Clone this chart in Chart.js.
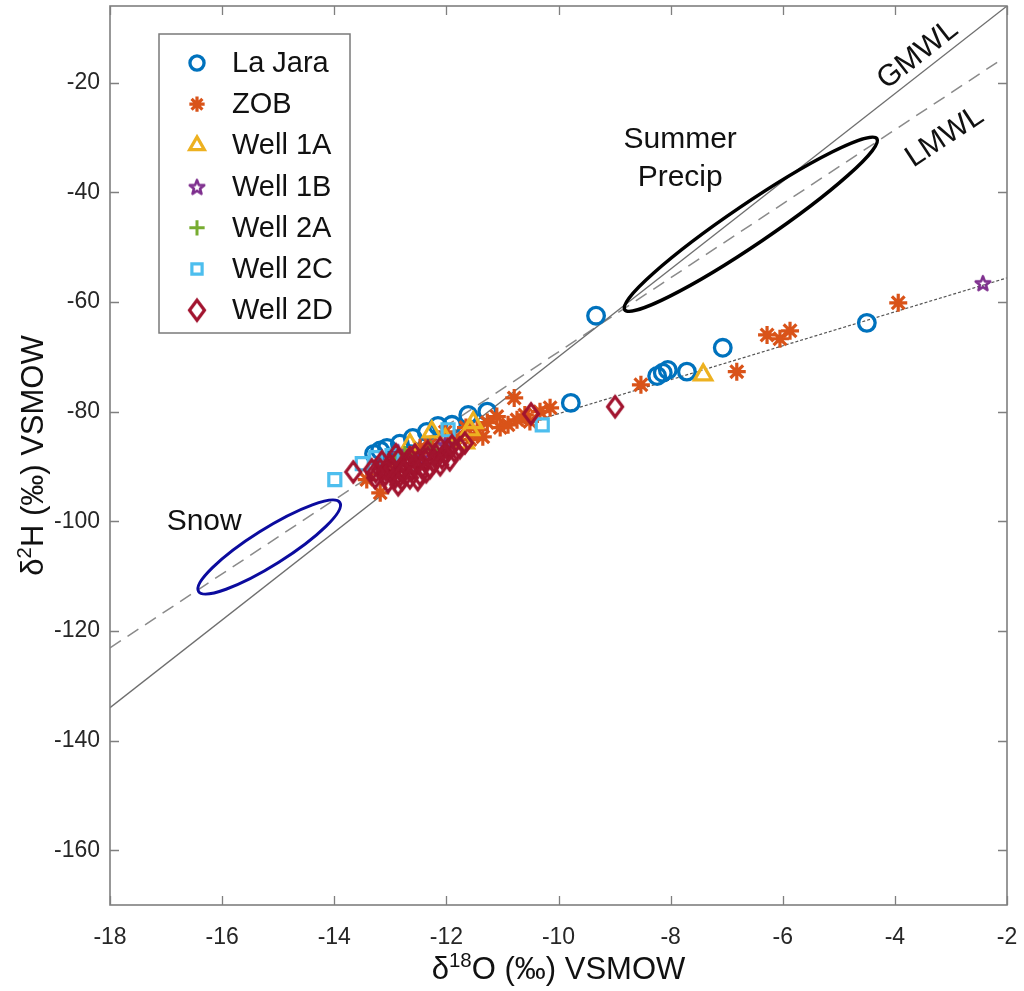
<!DOCTYPE html>
<html>
<head>
<meta charset="utf-8">
<title>Isotope plot</title>
<script src="https://cdn.jsdelivr.net/npm/chart.js@4.4.1/dist/chart.umd.min.js"></script>
<style>
  html, body { margin: 0; padding: 0; background: #fff; }
  #wrap { width: 1024px; height: 991px; }
</style>
</head>
<body>
<div id="wrap"><canvas id="chart" width="1024" height="991"></canvas></div>
<script>
const FONT = '"Liberation Sans", Arial, Helvetica, sans-serif';

// axis ticks
const xTicks = [-18, -16, -14, -12, -10, -8, -6, -4, -2];
const yTicks = [-160, -140, -120, -100, -80, -60, -40, -20];

// reference lines [d18O, d2H]
const gmwl = [[-18, -134], [-2, -6]];
const lmwl = [[-18, -123.1], [-2.15, -16.1]];
const evapLine = [[-10.3, -81.3], [-2, -55.6]];

// samples [d18O, d2H]
const laJara = [
  [-9.33, -62.5], [-9.78, -78.4], [-7.07, -68.35], [-8.24, -73.5], [-8.14, -72.9],
  [-8.05, -72.4], [-7.71, -72.7], [-4.50, -63.8], [-11.27, -80.0], [-11.61, -80.6],
  [-12.15, -82.6], [-12.60, -84.8], [-12.83, -85.85], [-13.06, -86.6], [-13.29, -87.7],
  [-13.18, -87.1], [-12.35, -83.7], [-11.90, -82.4]
];
const zob = [
  [-3.94, -60.15], [-6.28, -66.0], [-6.05, -66.7], [-5.87, -65.25], [-6.82, -72.7],
  [-8.53, -75.1], [-10.15, -79.3], [-10.79, -77.5], [-10.60, -80.6], [-10.51, -81.8],
  [-10.74, -81.5], [-11.10, -80.9], [-11.27, -82.0], [-11.45, -83.3], [-11.35, -84.6],
  [-11.65, -82.9], [-11.85, -84.8], [-12.02, -83.7], [-12.29, -86.0], [-12.47, -86.6],
  [-12.65, -87.9], [-12.92, -90.6], [-13.18, -94.8], [-13.42, -92.4], [-11.04, -82.9],
  [-10.90, -82.4], [-10.33, -80.0], [-11.58, -85.1]
];
const well1A = [
  [-7.42, -73.3], [-11.52, -82.0], [-11.58, -83.3], [-12.26, -83.7], [-12.02, -85.1],
  [-11.67, -85.7], [-12.65, -86.0]
];
const well1B = [[-2.43, -56.5], [-12.86, -87.3], [-12.47, -88.4], [-12.02, -86.0]];
const well2A = [[-12.74, -87.9], [-12.29, -86.95], [-12.92, -89.1]];
const well2C = [
  [-13.99, -92.4], [-10.29, -82.4], [-13.50, -89.5], [-12.97, -88.0], [-11.97, -83.3],
  [-13.26, -88.4]
];
const well2D = [
  [-8.99, -79.1], [-10.49, -80.4], [-13.66, -91.0], [-13.33, -90.6], [-11.67, -85.7],
  [-13.09, -91.5], [-12.92, -92.05], [-12.83, -90.6], [-12.74, -89.7], [-12.61, -90.6],
  [-12.51, -89.1], [-12.38, -88.8], [-12.29, -90.2], [-12.19, -87.9], [-12.08, -88.4],
  [-11.97, -86.95], [-11.85, -87.3], [-13.01, -89.7], [-12.86, -88.8], [-12.65, -88.4],
  [-12.47, -91.5], [-13.18, -90.6], [-13.04, -92.8], [-12.79, -92.4], [-12.33, -87.3],
  [-12.11, -86.6], [-11.94, -88.8], [-12.56, -87.9], [-12.97, -91.0], [-13.27, -92.05],
  [-13.15, -89.14], [-12.97, -90.23], [-12.83, -91.69], [-12.68, -89.14], [-12.58, -89.87],
  [-12.44, -90.23], [-12.33, -88.41], [-12.22, -89.14], [-12.01, -87.68], [-11.90, -86.22],
  [-11.76, -86.58], [-12.90, -87.86], [-12.76, -90.96], [-12.51, -92.42], [-13.08, -90.6],
  [-13.26, -90.96], [-12.11, -89.68], [-12.36, -90.96], [-12.65, -92.05], [-12.86, -93.33]
];

const seriesNames = ['La Jara', 'ZOB', 'Well 1A', 'Well 1B', 'Well 2A', 'Well 2C', 'Well 2D'];
const seriesData = [laJara, zob, well1A, well1B, well2A, well2C, well2D];
const seriesColors = ['#0072BD', '#D95319', '#EDB120', '#7E2F8E', '#77AC30', '#4DBEEE', '#A2142F'];

// free text placed in data coordinates
const notes = [
  { text: 'Summer', x: -7.83, y: -31.9 },
  { text: 'Precip', x: -7.83, y: -38.8 },
  { text: 'Snow', x: -16.32, y: -101.5 }
];
const lineLabels = [
  { text: 'GMWL', x: -3.59, y: -14.9, line: gmwl },
  { text: 'LMWL', x: -3.11, y: -29.9, line: lmwl }
];
// outlined regions: centre and end of the long axis, in data coordinates
const regions = [
  { center: [-6.57, -45.8], tip: [-4.32, -30.2], halfWidth: 20, color: '#000000', width: 3.5 },
  { center: [-15.16, -104.7], tip: [-13.90, -96.6], halfWidth: 18, color: '#0b0b9e', width: 3 }
];

function markerCanvas(w, h, draw) {
  const c = document.createElement('canvas');
  c.width = w;
  c.height = h;
  draw(c.getContext('2d'), w / 2, h / 2);
  return c;
}

const pentagram = markerCanvas(20, 20, (g, cx, cy) => {
  g.beginPath();
  for (let i = 0; i < 10; i++) {
    const r = i % 2 ? 3.2 : 7.6;
    const a = -Math.PI / 2 + i * Math.PI / 5;
    g.lineTo(cx + r * Math.cos(a), cy + 1 + r * Math.sin(a));
  }
  g.closePath();
  g.lineJoin = 'round';
  g.lineWidth = 2.6;
  g.strokeStyle = seriesColors[3];
  g.stroke();
});

const diamond = markerCanvas(22, 28, (g, cx, cy) => {
  g.beginPath();
  g.moveTo(cx, cy - 10);
  g.lineTo(cx + 7.5, cy);
  g.lineTo(cx, cy + 10);
  g.lineTo(cx - 7.5, cy);
  g.closePath();
  g.lineJoin = 'miter';
  g.lineWidth = 3.2;
  g.strokeStyle = seriesColors[6];
  g.stroke();
});

const markers = [
  { style: 'circle', radius: 8.3, width: 3.3 },
  { style: 'star', radius: 9, width: 3.2 },
  { style: 'triangle', radius: 10, width: 3.2 },
  { style: pentagram, radius: 8, width: 2.6 },
  { style: 'cross', radius: 9, width: 3 },
  { style: 'rect', radius: 8.5, width: 3.2 },
  { style: diamond, radius: 10, width: 3.2 }
];

const toPoints = arr => arr.map(([x, y]) => ({ x, y }));

const datasets = [
  {
    label: 'GMWL', data: toPoints(gmwl), showLine: true, pointRadius: 0,
    borderColor: '#6e6e6e', borderWidth: 1.3, order: 20
  },
  {
    label: 'LMWL', data: toPoints(lmwl), showLine: true, pointRadius: 0,
    borderColor: '#8a8a8a', borderWidth: 1.5, borderDash: [13, 8], order: 20
  },
  {
    label: 'evaporation', data: toPoints(evapLine), showLine: true, pointRadius: 0,
    borderColor: '#555555', borderWidth: 1.2, borderDash: [3, 2], order: 20
  }
];
seriesNames.forEach((name, i) => {
  datasets.push({
    label: name,
    data: toPoints(seriesData[i]),
    pointStyle: markers[i].style,
    pointRadius: markers[i].radius,
    pointBorderWidth: markers[i].width,
    borderColor: seriesColors[i],
    backgroundColor: 'rgba(0,0,0,0)',
    order: 10 - i
  });
});

function drawRich(ctx, parts, size) {
  let total = 0;
  parts.forEach(p => {
    ctx.font = (p.sup ? size * 0.66 : size) + 'px ' + FONT;
    p.w = ctx.measureText(p.t).width;
    total += p.w;
  });
  let x = -total / 2;
  parts.forEach(p => {
    ctx.font = (p.sup ? size * 0.66 : size) + 'px ' + FONT;
    ctx.fillText(p.t, x, p.sup ? -size * 0.38 : 0);
    x += p.w;
  });
}

const decorations = {
  id: 'decorations',
  afterDatasetsDraw(chart) {
    const { ctx, chartArea: a, scales: { x, y } } = chart;
    ctx.save();

    // outlined regions
    regions.forEach(r => {
      const cx = x.getPixelForValue(r.center[0]);
      const cy = y.getPixelForValue(r.center[1]);
      const tx = x.getPixelForValue(r.tip[0]);
      const ty = y.getPixelForValue(r.tip[1]);
      ctx.beginPath();
      ctx.ellipse(cx, cy, Math.hypot(tx - cx, ty - cy), r.halfWidth, Math.atan2(ty - cy, tx - cx), 0, Math.PI * 2);
      ctx.lineWidth = r.width;
      ctx.strokeStyle = r.color;
      ctx.stroke();
    });

    // text notes
    ctx.fillStyle = '#111';
    ctx.font = '30px ' + FONT;
    ctx.textAlign = 'center';
    ctx.textBaseline = 'alphabetic';
    notes.forEach(n => ctx.fillText(n.text, x.getPixelForValue(n.x), y.getPixelForValue(n.y)));

    ctx.textBaseline = 'middle';
    lineLabels.forEach(l => {
      const x0 = x.getPixelForValue(l.line[0][0]), y0 = y.getPixelForValue(l.line[0][1]);
      const x1 = x.getPixelForValue(l.line[1][0]), y1 = y.getPixelForValue(l.line[1][1]);
      ctx.save();
      ctx.translate(x.getPixelForValue(l.x), y.getPixelForValue(l.y));
      ctx.rotate(Math.atan2(y1 - y0, x1 - x0));
      ctx.fillText(l.text, 0, 0);
      ctx.restore();
    });

    // legend box
    const lx = a.left + 49, ly = a.top + 28, lw = 191, lh = 299;
    ctx.fillStyle = '#fff';
    ctx.fillRect(lx, ly, lw, lh);
    ctx.strokeStyle = '#7a7a7a';
    ctx.lineWidth = 1.5;
    ctx.strokeRect(lx, ly, lw, lh);
    ctx.textAlign = 'left';
    ctx.textBaseline = 'middle';
    seriesNames.forEach((name, i) => {
      const rowY = ly + 29 + i * 41.2;
      ctx.strokeStyle = seriesColors[i];
      ctx.fillStyle = 'rgba(0,0,0,0)';
      ctx.lineWidth = markers[i].width;
      Chart.helpers.drawPoint(ctx, {
        pointStyle: markers[i].style, radius: markers[i].radius * 0.85, rotation: 0, borderWidth: markers[i].width
      }, lx + 38, rowY);
      ctx.fillStyle = '#111';
      ctx.font = '29px ' + FONT;
      ctx.fillText(name, lx + 73, rowY + 1);
    });

    ctx.restore();
  },
  afterDraw(chart) {
    const { ctx, chartArea: a, scales: { x, y } } = chart;
    ctx.save();

    // axes box with inward ticks on all sides
    ctx.strokeStyle = '#7f7f7f';
    ctx.lineWidth = 1.6;
    ctx.strokeRect(a.left, a.top, a.right - a.left, a.bottom - a.top);
    ctx.beginPath();
    xTicks.forEach(v => {
      const px = Math.round(x.getPixelForValue(v)) + 0.5;
      ctx.moveTo(px, a.bottom); ctx.lineTo(px, a.bottom - 9);
      ctx.moveTo(px, a.top); ctx.lineTo(px, a.top + 9);
    });
    yTicks.forEach(v => {
      const py = Math.round(y.getPixelForValue(v)) + 0.5;
      ctx.moveTo(a.left, py); ctx.lineTo(a.left + 9, py);
      ctx.moveTo(a.right, py); ctx.lineTo(a.right - 9, py);
    });
    ctx.lineWidth = 1.3;
    ctx.stroke();

    // axis titles
    ctx.fillStyle = '#111';
    ctx.textAlign = 'left';
    ctx.textBaseline = 'alphabetic';
    ctx.save();
    ctx.translate((a.left + a.right) / 2, 979);
    drawRich(ctx, [{ t: 'δ' }, { t: '18', sup: true }, { t: 'O (‰) VSMOW' }], 31);
    ctx.restore();
    ctx.save();
    ctx.translate(43, (a.top + a.bottom) / 2);
    ctx.rotate(-Math.PI / 2);
    drawRich(ctx, [{ t: 'δ' }, { t: '2', sup: true }, { t: 'H (‰) VSMOW' }], 31);
    ctx.restore();

    ctx.restore();
  }
};

new Chart(document.getElementById('chart'), {
  type: 'scatter',
  data: { datasets },
  options: {
    responsive: false,
    animation: false,
    devicePixelRatio: 1,
    layout: { autoPadding: false, padding: { left: 0, right: 17, top: 6, bottom: 0 } },
    plugins: { legend: { display: false }, tooltip: { enabled: false } },
    scales: {
      x: {
        type: 'linear', min: -18, max: -2,
        afterBuildTicks: s => { s.ticks = xTicks.map(v => ({ value: v })); },
        afterFit: s => { s.height = 86; s.paddingLeft = 0; s.paddingRight = 0; },
        grid: { display: false, drawTicks: false },
        border: { display: false },
        ticks: { padding: 19, maxRotation: 0, autoSkip: false, color: '#262626', font: { family: FONT, size: 23 } }
      },
      y: {
        type: 'linear', min: -170, max: -6,
        afterBuildTicks: s => { s.ticks = yTicks.map(v => ({ value: v })); },
        afterFit: s => { s.width = 110; s.paddingTop = 0; s.paddingBottom = 0; },
        grid: { display: false, drawTicks: false },
        border: { display: false },
        ticks: { padding: 10, autoSkip: false, color: '#262626', font: { family: FONT, size: 23 } }
      }
    }
  },
  plugins: [decorations]
});
</script>
</body>
</html>
